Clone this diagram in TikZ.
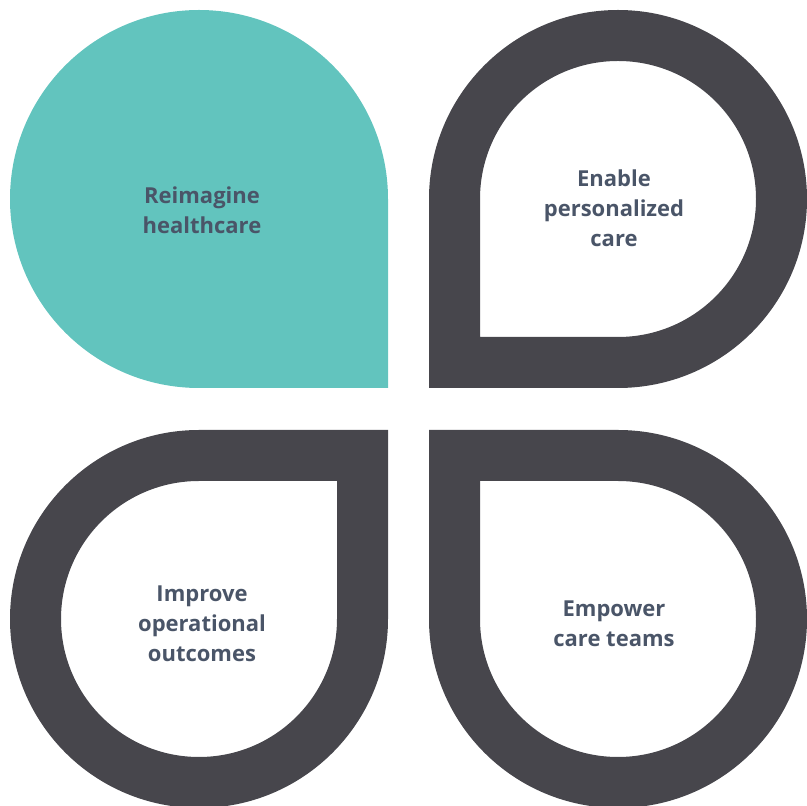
\documentclass[tikz,border=0pt]{standalone}
\usepackage{fontspec}
\setmainfont{Open Sans}
\usetikzlibrary{positioning}
\definecolor{petalteal}{HTML}{62C4BE}
\definecolor{petaldark}{HTML}{47464C}
\definecolor{labelgray}{HTML}{4A5568}
% teardrop: centre, corner angle, radius
\newcommand{\leafpath}[3]{($(#1)+(#2:{#3*1.41421})$) -- ($(#1)+(#2+45:#3)$) arc[start angle=#2+45, end angle=#2+315, radius=#3] -- cycle}
\usetikzlibrary{calc}

\begin{document}
\begin{tikzpicture}[x=1pt, y=1pt,
    lbl/.style={text=labelgray, font=\bfseries\fontsize{22}{30}\selectfont, align=center},
    ring/.style={fill=petaldark, even odd rule}]
                \useasboundingbox (0,0) rectangle (807,806);
                \clip (0,0) rectangle (807,806);
                \coordinate (tl) at (199,607);
                \coordinate (tr) at (618,607);
                \coordinate (bl) at (199,187);
                \coordinate (br) at (618,187);
                \fill[petalteal] \leafpath{tl}{-45}{189};
                \fill[ring] \leafpath{tr}{225}{189} \leafpath{tr}{225}{138};
                \fill[ring] \leafpath{bl}{45}{189} \leafpath{bl}{45}{138};
                \fill[ring] \leafpath{br}{135}{189} \leafpath{br}{135}{138};
                \node[lbl] (reimagine) at (202,596) {Reimagine\\healthcare};
                \node[lbl] (enable) at (614,598) {Enable\\personalized\\care};
                \node[lbl] (improve) at (202,182) {Improve\\operational\\outcomes};
                \node[lbl] (empower) at (614,182) {Empower\\care teams};
            \end{tikzpicture}
\end{document}
